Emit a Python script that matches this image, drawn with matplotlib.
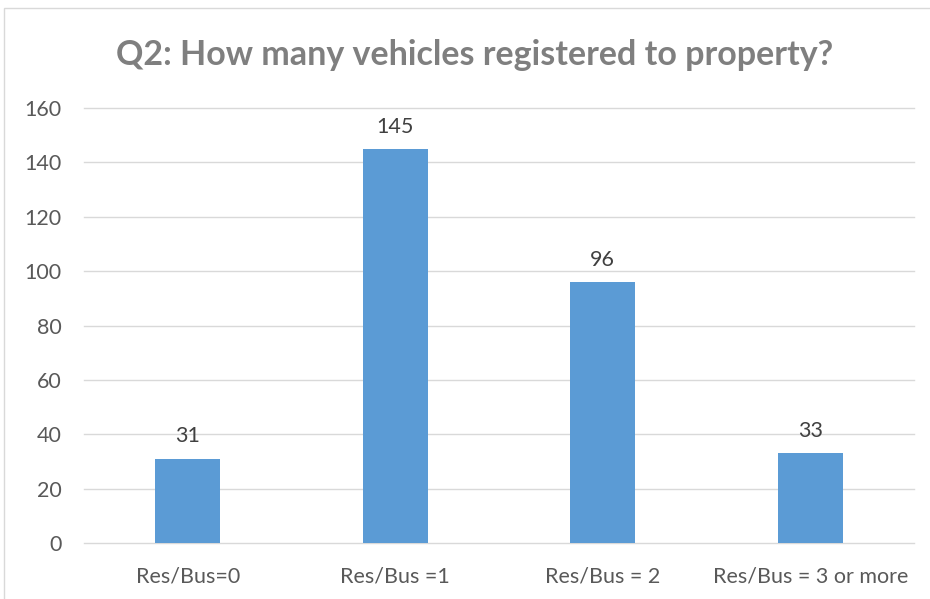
import matplotlib
matplotlib.use("Agg")
import matplotlib.pyplot as plt
from matplotlib.patches import Rectangle

categories = ["Res/Bus=0", "Res/Bus =1", "Res/Bus = 2", "Res/Bus = 3 or more"]
values = [31, 145, 96, 33]
yticks = [0, 20, 40, 60, 80, 100, 120, 140, 160]

plt.rcParams["font.family"] = ["Lato", "DejaVu Sans"]

fig = plt.figure(figsize=(9.30, 5.99), dpi=100)
fig.patches.append(Rectangle((4/930, -0.1), 1.2, 1 - 8/599 + 0.1, transform=fig.transFigure,
                             fill=False, edgecolor="#d9d9d9", linewidth=1))
ax = fig.add_axes([84/930, 1 - 543/599, (914 - 84)/930, (543 - 108)/599])

x = list(range(len(categories)))
ax.bar(x, values, width=0.315, color="#5B9BD5", zorder=3)
for xi, v in zip(x, values):
    ax.text(xi, v + 4.5, str(v), ha="center", va="bottom", fontsize=15.5, color="#404040")

ax.set_xlim(-0.5, 3.5)
ax.set_ylim(0, 160)
ax.set_yticks(yticks)
ax.set_yticklabels([str(t) for t in yticks], fontsize=15.5, color="#595959")
ax.set_xticks(x)
ax.set_xticklabels(categories, fontsize=15.5, color="#595959")
ax.grid(axis="y", color="#d9d9d9", linewidth=1, zorder=0)
for gl in ax.get_ygridlines():
    gl.set_clip_on(False)
for s in ax.spines.values():
    s.set_visible(False)
ax.tick_params(axis="x", length=0, pad=17)
ax.tick_params(axis="y", length=0, pad=16)

fig.text(475/930, 1 - 55/599, "Q2: How many vehicles registered to property?", ha="center", va="center",
         fontsize=24.5, fontweight="bold", color="#7f7f7f")

fig.savefig("out.png", dpi=100)
